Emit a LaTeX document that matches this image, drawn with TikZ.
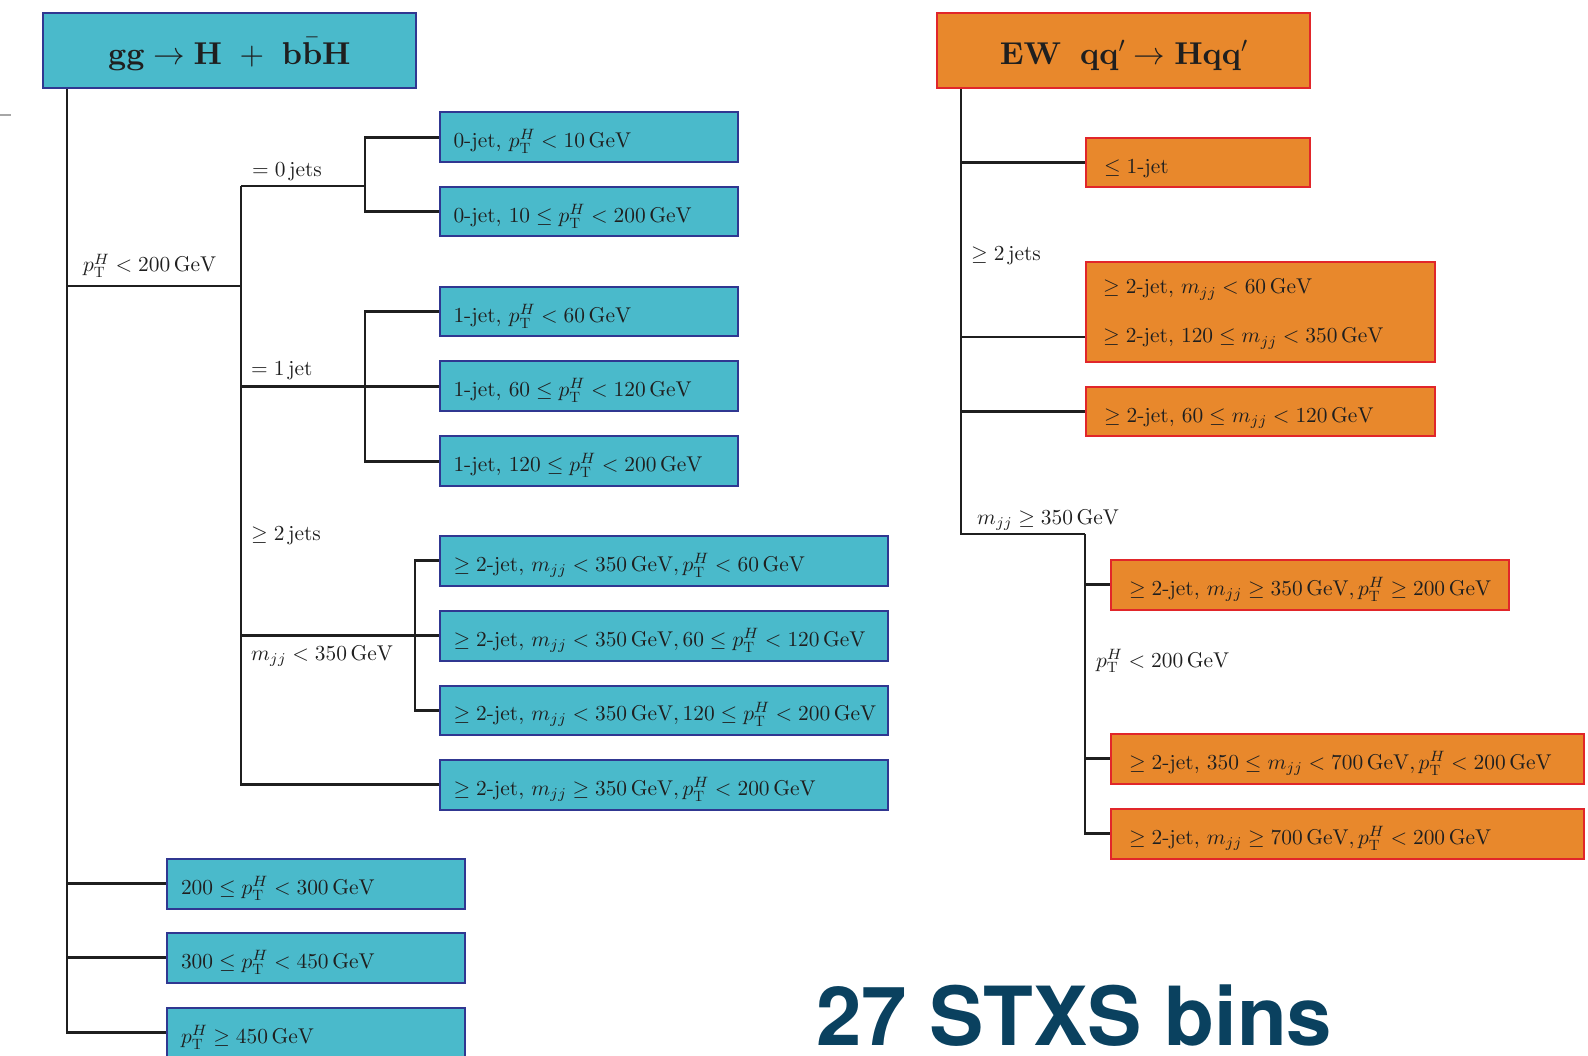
\documentclass[tikz,border=0pt]{standalone}
\usepackage{fontspec}
\setmainfont{lmroman10-regular.otf}[BoldFont=lmroman10-bold.otf, ItalicFont=lmroman10-italic.otf, BoldItalicFont=lmroman10-bolditalic.otf]
\newfontfamily\herosfam{TeX Gyre Heros}
\DeclareFontShape{OT1}{cmr}{m}{n}{<-12.5>cmr5 <12.5-18>cmr7 <18->cmr10}{}
\DeclareFontShape{OT1}{cmr}{bx}{n}{<-12.5>cmbx5 <12.5-18>cmbx7 <18->cmbx10}{}
\DeclareFontShape{OML}{cmm}{m}{it}{<-12.5>cmmi5 <12.5-18>cmmi7 <18->cmmi10}{}
\DeclareFontShape{OML}{cmm}{b}{it}{<-12.5>cmmib5 <12.5-18>cmmib7 <18->cmmib10}{}
\DeclareFontShape{OMS}{cmsy}{m}{n}{<-12.5>cmsy5 <12.5-18>cmsy7 <18->cmsy10}{}
\DeclareFontShape{OMS}{cmsy}{b}{n}{<-12.5>cmbsy5 <12.5-18>cmbsy7 <18->cmbsy10}{}
\DeclareFontShape{OMX}{cmex}{m}{n}{<->cmex10}{}
\definecolor{cyanF}{RGB}{74,186,203}
\definecolor{cyanB}{RGB}{48,55,145}
\definecolor{orgF}{RGB}{232,136,44}
\definecolor{orgB}{RGB}{225,38,42}
\definecolor{stxsC}{RGB}{10,65,95}
\newcommand\myfs{\fontsize{21.4}{25}\selectfont}
\newcommand\myttl{\fontsize{31.6}{36}\selectfont}
\newcommand\GeV{\,\mathrm{GeV}}
\newcommand\pTH{p_{\mathrm{T}}^{H}}
\hfuzz=100pt
\tikzset{
  conn/.style={draw=black!88, line width=2.8pt, line join=miter},
  box/.style={draw, line width=2pt, anchor=north west, inner ysep=0pt,
    minimum height=49.5pt, text height=22pt, text depth=1pt, align=left,
    font=\myfs, text=black!88},
  cbox/.style={box, fill=cyanF, draw=cyanB, inner xsep=14pt},
  obox/.style={box, fill=orgF, draw=orgB, inner xsep=18pt},
  lbl/.style={anchor=base west, inner sep=0pt, font=\myfs, text=black!88},
  ttl/.style={draw, line width=2.4pt, anchor=north west, minimum height=75pt,
    text height=30pt, text depth=3pt, inner sep=0pt, font=\myttl, align=center,
    text=black!88},
}
\begin{document}
\begin{tikzpicture}[x=1pt,y=-1pt]
\useasboundingbox (0,0) rectangle (1588,1056);
\clip (0,0) rectangle (1588,1056);
% stray tick at left edge
\draw[gray!70, line width=1.5pt] (0,115) -- (11,115);
% ---------------- left tree ----------------
\node[ttl, fill=cyanF, draw=cyanB, minimum width=373.5pt] (tL) at (41.5,12)
  {$\mathbf{gg}\to\mathbf{H}\ +\ \mathbf{b}\bar{\mathbf{b}}\mathbf{H}$};
\node[cbox, text width=270.5pt] (b0a) at (438.5,111.5) {\mbox{0-jet, $\pTH < 10\GeV$}};
\node[cbox, text width=270.5pt] (b0b) at (438.5,186) {\mbox{0-jet, $10 \leq \pTH < 200\GeV$}};
\node[cbox, text width=270.5pt] (b1a) at (438.5,286) {\mbox{1-jet, $\pTH < 60\GeV$}};
\node[cbox, text width=270.5pt] (b1b) at (438.5,360.5) {\mbox{1-jet, $60 \leq \pTH < 120\GeV$}};
\node[cbox, text width=270.5pt] (b1c) at (438.5,435.5) {\mbox{1-jet, $120 \leq \pTH < 200\GeV$}};
\node[cbox, text width=420.5pt] (b2a) at (438.5,535) {\mbox{$\geq 2$-jet, $m_{jj} < 350\GeV, \pTH < 60\GeV$}};
\node[cbox, text width=420.5pt] (b2b) at (438.5,610) {\mbox{$\geq 2$-jet, $m_{jj} < 350\GeV, 60 \leq \pTH < 120\GeV$}};
\node[cbox, text width=420.5pt] (b2c) at (438.5,684.5) {\mbox{$\geq 2$-jet, $m_{jj} < 350\GeV, 120 \leq \pTH < 200\GeV$}};
\node[cbox, text width=420.5pt] (b2d) at (438.5,759) {\mbox{$\geq 2$-jet, $m_{jj} \geq 350\GeV, \pTH < 200\GeV$}};
\node[cbox, text width=270pt] (bp1) at (166,858) {\mbox{$200 \leq \pTH < 300\GeV$}};
\node[cbox, text width=270pt] (bp2) at (166,932) {\mbox{$300 \leq \pTH < 450\GeV$}};
\node[cbox, text width=270pt] (bp3) at (166,1007) {\mbox{$\pTH \geq 450\GeV$}};
% labels
\node[lbl] (lpt) at (83,272) {$\pTH < 200\GeV$};
\node[lbl] (l0j) at (252,177) {$=0$\,jets};
\node[lbl] (l1j) at (251,376) {$=1$\,jet};
\node[lbl] (l2j) at (251,540) {$\geq 2$\,jets};
\node[lbl] (lmjj) at (251,660) {$m_{jj} < 350\GeV$};
% connectors
\coordinate (tk) at ([xshift=25.5pt]tL.south west);
\coordinate (sb) at (241,286);
\coordinate (s0) at (241,186);
\draw[conn] (tk) |- (bp3.west);
\draw[conn] (tk |- bp1.west) -- (bp1.west);
\draw[conn] (tk |- bp2.west) -- (bp2.west);
\draw[conn] (tk |- sb) -- (sb);
\draw[conn] (s0) |- (b2d.west);
\draw[conn] (s0) -- ([xshift=-73.5pt]b0a.west |- s0);
\draw[conn] (b0a.west) -| ([xshift=-73.5pt]b0b.west) -- (b0b.west);
\draw[conn] (s0 |- b1b.west) -- (b1b.west);
\draw[conn] (b1a.west) -| ([xshift=-73.5pt]b1c.west) -- (b1c.west);
\draw[conn] (s0 |- b2b.west) -- (b2b.west);
\draw[conn] (b2a.west) -| ([xshift=-23.5pt]b2c.west) -- (b2c.west);
% ---------------- right tree ----------------
\node[ttl, fill=orgF, draw=orgB, minimum width=373pt] (tR) at (936,12)
  {$\mathbf{EW}\hskip0.6em\mathbf{qq'}\to\mathbf{Hqq'}$};
\node[obox, text width=188pt] (r1) at (1085,137) {\mbox{$\leq 1$-jet}};
\node[obox, text width=313pt, minimum height=100pt] (rb) at (1085,261) {};
\node[lbl] (rbt1) at (1103,294) {$\geq 2$-jet, $m_{jj} < 60\GeV$};
\node[lbl] (rbt2) at (1103,343) {$\geq 2$-jet, $120 \leq m_{jj} < 350\GeV$};
\node[obox, text width=313pt] (r3) at (1085,386) {\mbox{$\geq 2$-jet, $60 \leq m_{jj} < 120\GeV$}};
\node[obox, text width=362pt] (r4a) at (1110,559) {\mbox{$\geq 2$-jet, $m_{jj} \geq 350\GeV, \pTH \geq 200\GeV$}};
\node[obox, text width=437pt] (r4b) at (1110,733) {\mbox{$\geq 2$-jet, $350 \leq m_{jj} < 700\GeV, \pTH < 200\GeV$}};
\node[obox, text width=437pt] (r4c) at (1110,808) {\mbox{$\geq 2$-jet, $m_{jj} \geq 700\GeV, \pTH < 200\GeV$}};
\node[lbl] (rl2j) at (971,261) {$\geq 2$\,jets};
\node[lbl] (rlm) at (977,524) {$m_{jj} \geq 350\GeV$};
\node[lbl] (rlpt) at (1096,667) {$\pTH < 200\GeV$};
\coordinate (rk) at ([xshift=25pt]tR.south west);
\coordinate (rj) at (1085,534);
\coordinate (rbj) at ([yshift=26pt]rb.south west);
\draw[conn] (rk) |- (rj);
\draw[conn] (rk |- r1.west) -- (r1.west);
\draw[conn] (rk |- rbj) -- (rbj);
\draw[conn] (rk |- r3.west) -- (r3.west);
\draw[conn] (rj) |- (r4c.west);
\draw[conn] (rj |- r4a.west) -- (r4a.west);
\draw[conn] (rj |- r4b.west) -- (r4b.west);
% big caption
\node[anchor=base west, inner sep=0pt, text=stxsC, font={\herosfam\bfseries\fontsize{81.5}{88}\selectfont}] (stxs) at (816,1045) {27 STXS bins};
\end{tikzpicture}
\end{document}
